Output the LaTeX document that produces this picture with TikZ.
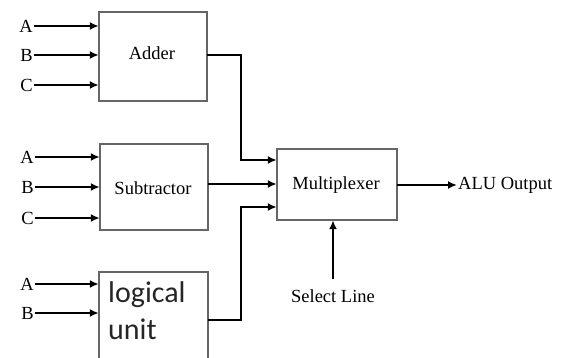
\documentclass[tikz,border=0pt]{standalone}
\usepackage{fontspec}
\setmainfont{Liberation Serif}
\newfontfamily\calibrifont{Carlito}
\usetikzlibrary{arrows.meta}
\begin{document}
\begin{tikzpicture}[x=1pt,y=-1pt,
  blk/.style={draw=black!60,line width=1.5pt,fill=white},
  lbl/.style={font=\fontsize{18.5}{20}\selectfont,inner sep=1pt},
  wire/.style={line width=2.5pt,-{Latex[length=9pt,width=8pt]}},
  plain/.style={line width=2.5pt}]
\useasboundingbox[fill=white] (0,0) rectangle (563,358);
% boxes
\draw[blk] (99,12) rectangle (207,101);
\node (adder) at (153,56.5) [minimum width=108pt,minimum height=89pt,inner sep=0pt] {};
\node[lbl] at (152,53) {Adder};
\draw[blk] (100,144) rectangle (208,230);
\node (sub) at (154,187) [minimum width=108pt,minimum height=86pt,inner sep=0pt] {};
\node[lbl] at (153,188) {Subtractor};
\draw[blk] (99,272) rectangle (208,370);
\node (logic) at (153.5,321) [minimum width=109pt,minimum height=98pt,inner sep=0pt] {};
\node[anchor=north west,align=left,inner sep=0pt,font=\calibrifont\fontsize{30}{37}\selectfont,text=black!85] at (108,281) {logical\\unit};
\draw[blk] (277,149) rectangle (397,220);
\node (mux) at (337,184.5) [minimum width=120pt,minimum height=71pt,inner sep=0pt] {};
\node[lbl] at (336,185) {Multiplexer};
% input labels
\node[lbl,anchor=east] (a1) at (34,26) {A};
\node[lbl,anchor=east] (b1) at (34,55) {B};
\node[lbl,anchor=east] (c1) at (34,85) {C};
\node[lbl,anchor=east] (a2) at (35,157) {A};
\node[lbl,anchor=east] (b2) at (35,187) {B};
\node[lbl,anchor=east] (c2) at (35,218) {C};
\node[lbl,anchor=east] (a3) at (35,284) {A};
\node[lbl,anchor=east] (b3) at (35,313) {B};
\foreach \n/\b in {a1/adder,b1/adder,c1/adder,a2/sub,b2/sub,c2/sub,a3/logic,b3/logic}
  \draw[wire] (\n.east) -- (\n.east -| \b.west);
% outputs to mux
\coordinate (j1) at (241,55);
\coordinate (j3) at (241,320);
\draw[wire] (adder.east |- j1) -- (j1) -- (j1 |- 0,160) -- (mux.west |- 0,160);
\draw[wire] (sub.east |- 0,184) -- (mux.west |- 0,184);
\draw[wire] (logic.east |- j3) -- (j3) -- (j3 |- 0,207) -- (mux.west |- 0,207);
% output
\node[lbl,anchor=west] (out) at (457,185) {ALU Output};
\draw[wire] (mux.east |- out.west) -- (out.west);
% select
\node[lbl] (sel) at (333,296) {Select Line};
\draw[wire,shorten <=9pt] (sel.north) -- (sel.north |- mux.south);
\end{tikzpicture}
\end{document}
